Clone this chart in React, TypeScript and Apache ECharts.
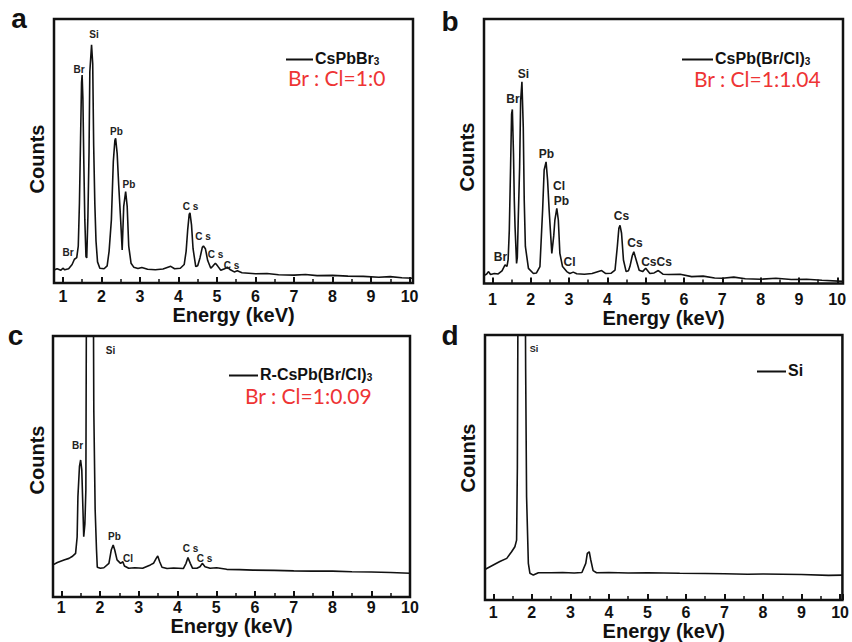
import React, { useEffect, useRef } from 'react';
import * as echarts from 'echarts';

// ---------- data ----------
const seriesNames = ['CsPbBr3', 'CsPb(Br/Cl)3', 'R-CsPb(Br/Cl)3', 'Si'];
const ratioTexts = ['Br : Cl=1:0', 'Br : Cl=1:1.04', 'Br : Cl=1:0.09', ''];
const panelLetters = ['a', 'b', 'c', 'd'];
const xAxisTitle = 'Energy (keV)';
const yAxisTitle = 'Counts';

// energy (keV), counts (relative, 0-100 of the panel height)
const spectrumA: [number, number][] = [
  [0.77, 4.9], [0.85, 5.4], [0.95, 4.8], [1.0, 5.6], [1.05, 5.0], [1.15, 5.4], [1.24, 7.0], [1.3, 9.0],
  [1.36, 9.6], [1.4, 14], [1.43, 30], [1.46, 55], [1.485, 76], [1.5, 78.8], [1.52, 70], [1.545, 45],
  [1.57, 24], [1.6, 10], [1.62, 9.5], [1.65, 25], [1.68, 50], [1.7, 80], [1.745, 90.2], [1.775, 83],
  [1.8, 52], [1.83, 30], [1.86, 16], [1.9, 8], [1.96, 5.6], [2.07, 5.4], [2.15, 6.5], [2.2, 12],
  [2.26, 24], [2.31, 46], [2.35, 54], [2.37, 54.8], [2.41, 49], [2.45, 37], [2.5, 24], [2.54, 12.5],
  [2.58, 29], [2.63, 34.6], [2.67, 29], [2.71, 14], [2.77, 7.5], [2.84, 6], [2.95, 5.5], [3.05, 5.9],
  [3.2, 5.2], [3.4, 5.0], [3.6, 5.3], [3.8, 6.3], [3.9, 5.4], [4.05, 5.6], [4.15, 7], [4.2, 12],
  [4.24, 20], [4.28, 26], [4.3, 26.6], [4.34, 22], [4.38, 13], [4.45, 6.2], [4.5, 6.5], [4.56, 9.5],
  [4.62, 13.5], [4.65, 14.0], [4.7, 13], [4.76, 8.5], [4.84, 5.6], [4.9, 6.5], [4.96, 7.5], [5.02, 6.4],
  [5.1, 4.8], [5.2, 5.4], [5.27, 6.0], [5.35, 5.0], [5.45, 4.2], [5.53, 4.6], [5.65, 3.9], [6.0, 3.5],
  [6.3, 3.6], [6.6, 3.1], [7.0, 3.0], [7.3, 3.2], [7.6, 2.8], [8.0, 2.9], [8.4, 2.6], [8.8, 2.5],
  [9.2, 2.2], [9.5, 2.4], [9.8, 2.0], [10.09, 1.8],
];

const spectrumB: [number, number][] = [
  [0.78, 3.0], [0.85, 3.6], [0.9, 4.5], [0.95, 3.4], [1.05, 3.8], [1.15, 3.6], [1.25, 4.8], [1.33, 7.0],
  [1.38, 6.5], [1.41, 9], [1.44, 20], [1.475, 45], [1.5, 64], [1.52, 65.8], [1.55, 49], [1.57, 32],
  [1.59, 21.5], [1.63, 7.6], [1.65, 10], [1.675, 25], [1.71, 44], [1.736, 69], [1.77, 76.3], [1.805, 59],
  [1.83, 31.6], [1.86, 14], [1.94, 5.7], [2.07, 3.8], [2.15, 4.0], [2.24, 6.4], [2.31, 27.8], [2.35, 42.9],
  [2.4, 46], [2.44, 39], [2.48, 27.8], [2.55, 11.4], [2.6, 18], [2.63, 24], [2.68, 28.4], [2.72, 24],
  [2.76, 11.4], [2.83, 6.4], [2.94, 4.5], [3.02, 3.8], [3.11, 4.3], [3.2, 3.7], [3.4, 3.5], [3.6, 3.8],
  [3.85, 4.9], [3.95, 3.8], [4.1, 3.9], [4.2, 5.1], [4.26, 14], [4.3, 20.9], [4.33, 22], [4.37, 19],
  [4.42, 8.9], [4.49, 4.5], [4.55, 4.8], [4.59, 6.5], [4.65, 10.5], [4.69, 12], [4.75, 9], [4.83, 5.0],
  [4.92, 4.5], [5.0, 5.8], [5.11, 3.8], [5.22, 4.0], [5.33, 4.9], [5.45, 3.5], [5.6, 3.4], [5.9, 3.5],
  [6.2, 2.6], [6.5, 2.8], [6.8, 2.1], [7.0, 2.0], [7.3, 2.4], [7.6, 1.8], [8.0, 1.6], [8.4, 2.0],
  [8.8, 1.5], [9.2, 1.6], [9.6, 1.2], [10.15, 0.8],
];

const spectrumC: [number, number][] = [
  [0.787, 12.3], [0.9, 13.2], [1.07, 14.2], [1.2, 14.8], [1.28, 15.5], [1.37, 16.7], [1.41, 23], [1.43, 38.4],
  [1.47, 50], [1.5, 52.5], [1.53, 48.7], [1.565, 30.8], [1.58, 23.1], [1.61, 28], [1.635, 41], [1.655, 140],
  [1.74, 400], [1.82, 150], [1.84, 71.6], [1.875, 33.3], [1.91, 18], [1.93, 11.4], [2.01, 11], [2.1, 11.2],
  [2.23, 12.9], [2.29, 18], [2.34, 19.9], [2.38, 18], [2.44, 14.2], [2.53, 12.9], [2.59, 13.5], [2.63, 11.9],
  [2.74, 11], [2.9, 11.2], [3.1, 11.0], [3.3, 12.3], [3.38, 12.9], [3.45, 14.8], [3.49, 15.7], [3.54, 13.5],
  [3.6, 11.4], [3.73, 10.9], [3.9, 11.1], [4.15, 10.9], [4.22, 12.9], [4.27, 15.1], [4.33, 12.9], [4.39, 11],
  [4.5, 11.0], [4.58, 11.6], [4.64, 12.9], [4.71, 11.6], [4.84, 11], [5.01, 11.2], [5.27, 10.6], [5.6, 10.5],
  [5.95, 10.3], [6.5, 10.2], [7.0, 10.0], [7.5, 9.9], [8.0, 9.9], [8.5, 9.7], [9.0, 9.6], [9.5, 9.4],
  [10.0, 9.1],
];

const spectrumD: [number, number][] = [
  [0.785, 11.5], [0.83, 11.9], [1.0, 13.2], [1.17, 14.5], [1.35, 15.7], [1.475, 18.2], [1.56, 20.1], [1.605, 22.6],
  [1.625, 50], [1.65, 150], [1.74, 400], [1.82, 150], [1.84, 87], [1.864, 39], [1.91, 13.8], [1.95, 10.1],
  [2.04, 9.4], [2.17, 10.3], [2.5, 10.3], [2.8, 10.4], [3.1, 10.2], [3.3, 10.4], [3.4, 13.8], [3.44, 17.6],
  [3.49, 18.2], [3.53, 15.1], [3.59, 11.1], [3.68, 10.3], [4.0, 10.4], [4.5, 10.2], [5.0, 10.3], [5.84, 10.1],
  [6.5, 10.0], [7.0, 9.9], [7.6, 9.7], [8.0, 9.8], [9.0, 9.6], [9.7, 9.3], [10.06, 9.4],
];

const spectra = [spectrumA, spectrumB, spectrumC, spectrumD];

// peak annotation texts per panel
const peakLabelsA = ['Si', 'Br', 'Pb', 'Pb', 'C s', 'C s', 'C s', 'C s', 'Br'];
const peakLabelsB = ['Si', 'Br', 'Pb', 'Cl', 'Pb', 'Cs', 'Cs', 'CsCs', 'Br', 'Cl'];
const peakLabelsC = ['Si', 'Br', 'Pb', 'Cl', 'C s', 'C s'];
const peakLabelsD = ['Si'];
const peakLabels = [peakLabelsA, peakLabelsB, peakLabelsC, peakLabelsD];

// ---------- layout (positions / styles) ----------
const FONT = 'Arial, "Liberation Sans", sans-serif';
const INK = '#111';
const RED = '#ee3434';

const layout = [
  {
    grid: { left: 54, top: 19, width: 359, height: 264 }, xMin: 0.77, xMax: 10.09,
    labelMargin: 5, nameGap: 19, letter: [19, 18.3], counts: [37, 159],
    legend: { left: 286, cy: 51, itemWidth: 27 }, ratio: [288, 77.5],
    peakPos: [[94, 34], [79, 69.5], [116.5, 131.5], [129, 184.5], [190.5, 206], [203, 236.5], [215.5, 254.5], [231.5, 265], [68, 252.5]],
    peakFont: 10,
  },
  {
    grid: { left: 484, top: 19, width: 359, height: 264.5 }, xMin: 0.78, xMax: 10.15,
    labelMargin: 7.5, nameGap: 23, letter: [450, 21.3], counts: [467, 157],
    legend: { left: 682, cy: 51, itemWidth: 31 }, ratio: [694, 78.5],
    peakPos: [[523.5, 73.5], [513, 98.5], [546.5, 154], [559, 186], [561.5, 200.5], [621.5, 216], [635, 242.5], [656.5, 261.5], [500.5, 256.5], [569.5, 261.5]],
    peakFont: 12,
  },
  {
    grid: { left: 53, top: 336, width: 357, height: 261 }, xMin: 0.787, xMax: 10.0,
    labelMargin: 2, nameGap: 16, letter: [15.5, 335.3], counts: [37, 460],
    legend: { left: 229, cy: 367, itemWidth: 29 }, ratio: [245, 395],
    peakPos: [[110.5, 350.5], [77.5, 445], [114.5, 536.5], [128, 558.5], [190.5, 548.5], [204.5, 558.5]],
    peakFont: 10,
  },
  {
    grid: { left: 485, top: 335, width: 358, height: 265 }, xMin: 0.785, xMax: 10.06,
    labelMargin: 4, nameGap: 20, letter: [450, 335.3], counts: [468, 458],
    legend: { left: 757, cy: 363, itemWidth: 29 }, ratio: [0, 0],
    peakPos: [[534, 348.5]],
    peakFont: 9,
  },
];

function buildOption() {
  const grids: any[] = [];
  const xAxes: any[] = [];
  const yAxes: any[] = [];
  const series: any[] = [];
  const legends: any[] = [];
  const graphics: any[] = [];

  layout.forEach((p, i) => {
    grids.push({ ...p.grid, show: true, borderColor: INK, borderWidth: 2.5, backgroundColor: 'transparent' });
    xAxes.push({
      type: 'value', gridIndex: i, position: 'bottom', min: p.xMin, max: p.xMax, splitNumber: 9,
      name: xAxisTitle, nameLocation: 'middle', nameGap: p.nameGap,
      nameTextStyle: { fontFamily: FONT, fontWeight: 'bold', fontSize: 20, color: INK },
      axisLine: { show: false },
      axisTick: { show: true, inside: true, length: 6, lineStyle: { color: INK, width: 2 } },
      axisLabel: {
        margin: p.labelMargin, fontFamily: FONT, fontWeight: 'bold', fontSize: 16, color: INK,
        formatter: (v: number) => (Math.abs(v - Math.round(v)) < 1e-6 ? String(Math.round(v)) : ''),
      },
      splitLine: { show: false },
    });
    xAxes.push({
      type: 'value', gridIndex: i, position: 'bottom', min: p.xMin, max: p.xMax, splitNumber: 18,
      axisLine: { show: false },
      axisTick: { show: true, inside: true, length: 4, lineStyle: { color: INK, width: 1.5 } },
      axisLabel: { show: false },
      splitLine: { show: false },
    });
    yAxes.push({ type: 'value', gridIndex: i, min: 0, max: 100, show: false, splitLine: { show: false } });
    series.push({
      type: 'line', name: seriesNames[i], xAxisIndex: 2 * i, yAxisIndex: i, data: spectra[i],
      symbol: 'none', showSymbol: false, clip: true,
      lineStyle: { color: INK, width: 1.6 }, itemStyle: { color: INK },
    });
    legends.push({
      data: [seriesNames[i]], left: p.legend.left, top: p.legend.cy - 1, padding: 0,
      icon: 'rect', itemWidth: p.legend.itemWidth, itemHeight: 2, itemGap: 0,
      formatter: (name: string) => (name.endsWith('3') ? `{m|${name.slice(0, -1)}}{s|3}` : `{m|${name}}`),
      textStyle: {
        padding: [0, 0, 0, -3],
        lineHeight: 13,
        rich: {
          m: { fontFamily: FONT, fontWeight: 'bold', fontSize: 16, color: INK, verticalAlign: 'bottom', lineHeight: 13 },
          s: { fontFamily: FONT, fontWeight: 'bold', fontSize: 10, color: INK, verticalAlign: 'bottom', lineHeight: 11 },
        },
      },
    });
    // panel letter
    graphics.push({
      type: 'text', x: p.letter[0], y: p.letter[1],
      style: { text: panelLetters[i], fill: INK, fontFamily: FONT, fontWeight: 'bold', fontSize: 28, textAlign: 'center', textVerticalAlign: 'middle', align: 'center', verticalAlign: 'middle' },
    });
    // y title
    graphics.push({
      type: 'text', x: p.counts[0], y: p.counts[1], rotation: Math.PI / 2,
      style: { text: yAxisTitle, fill: INK, fontFamily: FONT, fontWeight: 'bold', fontSize: 20, textAlign: 'center', textVerticalAlign: 'middle', align: 'center', verticalAlign: 'middle' },
    });
    // ratio text
    if (ratioTexts[i]) {
      graphics.push({
        type: 'text', x: p.ratio[0], y: p.ratio[1],
        style: { text: ratioTexts[i], fill: RED, fontFamily: 'Lato, "Open Sans", sans-serif', fontSize: 21, lineHeight: 16, textAlign: 'left', textVerticalAlign: 'middle', align: 'left', verticalAlign: 'middle' },
      });
    }
    // peak labels
    peakLabels[i].forEach((t, k) => {
      const pos = p.peakPos[k];
      graphics.push({
        type: 'text', x: pos[0], y: pos[1], z: 10,
        style: { text: t, fill: '#222', fontFamily: FONT, fontWeight: 'bold', fontSize: p.peakFont, textAlign: 'center', textVerticalAlign: 'middle', align: 'center', verticalAlign: 'middle' },
      });
    });
  });

  return {
    animation: false,
    backgroundColor: '#ffffff',
    grid: grids,
    xAxis: xAxes,
    yAxis: yAxes,
    legend: legends,
    series,
    graphic: graphics,
  };
}

export default function App() {
  const ref = useRef<HTMLDivElement>(null);
  useEffect(() => {
    if (!ref.current) return;
    const chart = echarts.init(ref.current, undefined, { renderer: 'svg', width: 852, height: 642 });
    chart.setOption(buildOption() as any);
    return () => chart.dispose();
  }, []);
  return (
    <div
      ref={ref}
      style={{ position: 'absolute', left: 0, top: 0, width: 852, height: 642, background: '#fff' }}
    />
  );
}
